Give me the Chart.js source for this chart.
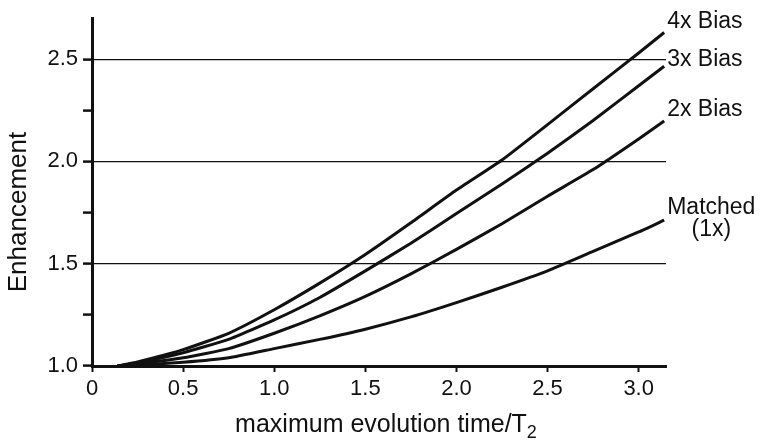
<!DOCTYPE html>
<html>
<head>
<meta charset="utf-8">
<script src="https://cdn.jsdelivr.net/npm/chart.js@4/dist/chart.umd.min.js"></script>
<style>
  body { margin: 0; background: #fff; }
  #wrap { width: 764px; height: 446px; }
</style>
</head>
<body>
<div id="wrap"><canvas id="chart"></canvas></div>
<script>
// values
var evolutionTime = [0.14, 0.25, 0.5, 0.75, 1.0, 1.25, 1.5, 1.75, 2.0, 2.25, 2.5, 2.75, 3.0, 3.14];
var bias4x  = [1.0, 1.02, 1.08, 1.16, 1.275, 1.405, 1.545, 1.70, 1.86, 2.007, 2.18, 2.355, 2.53, 2.63];
var bias3x  = [1.0, 1.015, 1.065, 1.13, 1.225, 1.335, 1.465, 1.60, 1.745, 1.89, 2.04, 2.20, 2.37, 2.465];
var bias2x  = [1.0, 1.01, 1.04, 1.085, 1.16, 1.245, 1.34, 1.45, 1.57, 1.695, 1.83, 1.96, 2.11, 2.198];
var matched = [1.0, 1.005, 1.018, 1.04, 1.085, 1.13, 1.18, 1.24, 1.31, 1.385, 1.465, 1.56, 1.655, 1.713];
var seriesLabels = [["4x Bias"], ["3x Bias"], ["2x Bias"], ["Matched", "(1x)"]];

var yTicks = [1.0, 1.25, 1.5, 1.75, 2.0, 2.25, 2.5];
var yGrid = [1.5, 2.0, 2.5];
var xTicks = [0, 0.5, 1.0, 1.5, 2.0, 2.5, 3.0];

var font = "'Liberation Sans', Arial, Helvetica, sans-serif";

function pts(ys) {
  return ys.map(function(y, i) { return { x: evolutionTime[i], y: y }; });
}

function series(ys) {
  return {
    data: pts(ys),
    borderColor: '#111',
    borderWidth: 3,
    pointRadius: 0,
    tension: 0.15,
    fill: false
  };
}

// curve labels at the right hand end, axis titles (x title has a subscript)
var textLayer = {
  id: 'textLayer',
  afterDatasetsDraw: function(chart) {
    var c = chart.ctx;
    var offsets = [-11, -7, -11, -12];
    c.save();
    c.fillStyle = '#111';
    c.font = '23px ' + font;
    c.textBaseline = 'middle';
    chart.data.datasets.forEach(function(ds, i) {
      var meta = chart.getDatasetMeta(i);
      var last = meta.data[meta.data.length - 1];
      var lines = seriesLabels[i];
      var x0 = last.x + 3;
      var y0 = last.y + offsets[i];
      c.textAlign = 'left';
      c.fillText(lines[0], x0, y0);
      if (lines.length > 1) {
        var w = c.measureText(lines[0]).width;
        c.textAlign = 'center';
        c.fillText(lines[1], x0 + w / 2, y0 + 22);
      }
    });

    // x axis title
    var area = chart.chartArea;
    var main = 'maximum evolution time/T';
    c.font = '25px ' + font;
    var wMain = c.measureText(main).width;
    c.font = '18px ' + font;
    var wSub = c.measureText('2').width;
    var cx = (area.left + area.right) / 2 + 7;
    var startX = cx - (wMain + wSub) / 2;
    c.textAlign = 'left';
    c.textBaseline = 'alphabetic';
    c.font = '25px ' + font;
    c.fillText(main, startX, 432);
    c.font = '18px ' + font;
    c.fillText('2', startX + wMain, 438);

    // y axis title
    c.translate(19, 212);
    c.rotate(-Math.PI / 2);
    c.font = '26px ' + font;
    c.textAlign = 'center';
    c.textBaseline = 'middle';
    c.fillText('Enhancement', 0, 0);
    c.restore();
  }
};

var ctx = document.getElementById('chart');
var chart = new Chart(ctx, {
  type: 'line',
  data: {
    datasets: [series(bias4x), series(bias3x), series(bias2x), series(matched)]
  },
  options: {
    responsive: true,
    maintainAspectRatio: false,
    animation: false,
    layout: { padding: { top: 15, right: 98, left: 0, bottom: 0 } },
    plugins: {
      legend: { display: false },
      tooltip: { enabled: false }
    },
    scales: {
      x: {
        type: 'linear',
        min: 0,
        max: 3.15,
        afterBuildTicks: function(scale) {
          scale.ticks = xTicks.map(function(v) { return { value: v }; });
        },
        afterFit: function(scale) { scale.height = 80; },
        border: { display: true, color: '#111', width: 3 },
        grid: {
          drawOnChartArea: false,
          tickColor: '#111',
          tickWidth: 2,
          tickLength: 6
        },
        ticks: {
          color: '#111',
          padding: 4,
          maxRotation: 0,
          font: { family: font, size: 22 },
          callback: function(v) { return v === 0 ? '0' : v.toFixed(1); }
        }
      },
      y: {
        min: 1.0,
        max: 2.7,
        afterBuildTicks: function(scale) {
          scale.ticks = yTicks.map(function(v) { return { value: v }; });
        },
        afterFit: function(scale) { scale.width = 92; },
        border: { display: true, color: '#111', width: 3 },
        grid: {
          color: function(c) {
            return c.tick && yGrid.indexOf(c.tick.value) >= 0 ? '#111' : 'rgba(0,0,0,0)';
          },
          lineWidth: 1.2,
          tickColor: '#111',
          tickWidth: 2.5,
          tickLength: 9
        },
        ticks: {
          color: '#111',
          padding: 5,
          font: { family: font, size: 22 },
          callback: function(v) {
            return Math.abs(v * 2 - Math.round(v * 2)) < 1e-6 ? v.toFixed(1) : '';
          }
        }
      }
    }
  },
  plugins: [textLayer]
});
</script>
</body>
</html>
